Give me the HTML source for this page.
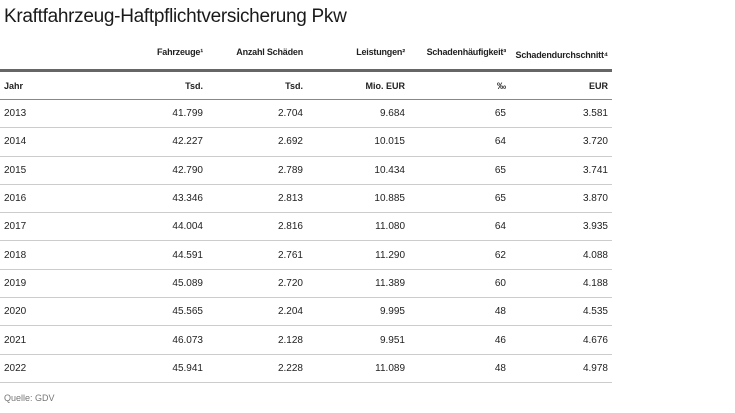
<!DOCTYPE html>
<html><head><meta charset="utf-8"><style>
body{margin:0;width:735px;height:413px;background:#fff;font-family:"Liberation Sans",sans-serif;color:#222;position:relative;overflow:hidden}
.t{position:absolute;left:4px;top:6px;font-size:19px;letter-spacing:-0.3px;color:#1a1a1a}
table{position:absolute;left:0;top:35px;width:612px;border-collapse:collapse}
td{padding:0 4px 0 4px;text-align:right;font-size:10px;height:28px;border-bottom:1px solid #ccc;white-space:nowrap}
td:first-child{text-align:left;padding-left:4px}
tr.h td{font-weight:bold;font-size:9px;height:28px;border-bottom:3px solid #666;letter-spacing:-0.2px}
tr.u td{font-weight:bold;font-size:9px;height:27px;border-bottom:1px solid #888}
tr.d td{height:27.3px}
.q{position:absolute;left:4px;top:393px;font-size:9px;color:#777}
</style></head><body>
<div class="t">Kraftfahrzeug-Haftpflichtversicherung Pkw</div>
<table>
<colgroup><col style="width:105px"><col style="width:102px"><col style="width:100px"><col style="width:102px"><col style="width:101px"><col style="width:102px"></colgroup>
<tr class="h"><td></td><td>Fahrzeuge¹</td><td>Anzahl Schäden</td><td>Leistungen²</td><td>Schadenhäufigkeit³</td><td style="padding-top:6px">Schadendurchschnitt⁴</td></tr>
<tr class="u"><td>Jahr</td><td>Tsd.</td><td>Tsd.</td><td>Mio. EUR</td><td>‰</td><td>EUR</td></tr>
<tr class="d"><td>2013</td><td>41.799</td><td>2.704</td><td>9.684</td><td>65</td><td>3.581</td></tr>
<tr class="d"><td>2014</td><td>42.227</td><td>2.692</td><td>10.015</td><td>64</td><td>3.720</td></tr>
<tr class="d"><td>2015</td><td>42.790</td><td>2.789</td><td>10.434</td><td>65</td><td>3.741</td></tr>
<tr class="d"><td>2016</td><td>43.346</td><td>2.813</td><td>10.885</td><td>65</td><td>3.870</td></tr>
<tr class="d"><td>2017</td><td>44.004</td><td>2.816</td><td>11.080</td><td>64</td><td>3.935</td></tr>
<tr class="d"><td>2018</td><td>44.591</td><td>2.761</td><td>11.290</td><td>62</td><td>4.088</td></tr>
<tr class="d"><td>2019</td><td>45.089</td><td>2.720</td><td>11.389</td><td>60</td><td>4.188</td></tr>
<tr class="d"><td>2020</td><td>45.565</td><td>2.204</td><td>9.995</td><td>48</td><td>4.535</td></tr>
<tr class="d"><td>2021</td><td>46.073</td><td>2.128</td><td>9.951</td><td>46</td><td>4.676</td></tr>
<tr class="d"><td>2022</td><td>45.941</td><td>2.228</td><td>11.089</td><td>48</td><td>4.978</td></tr>
</table>
<div class="q">Quelle: GDV</div>
</body></html>
